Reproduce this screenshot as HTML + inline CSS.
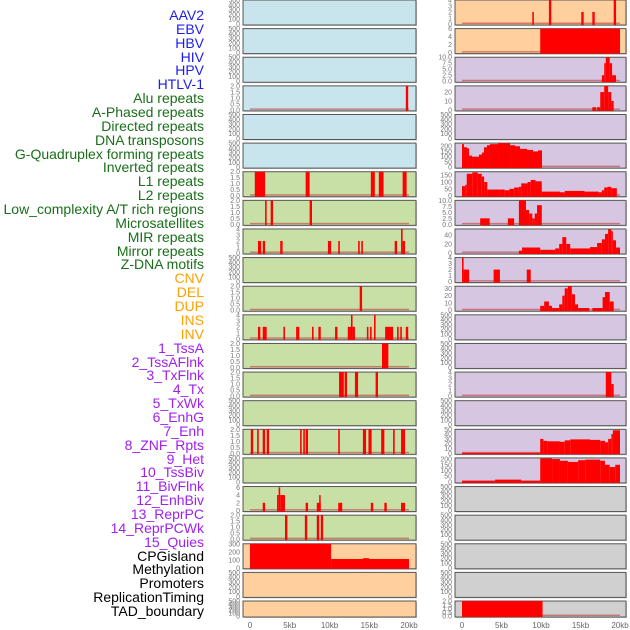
<!DOCTYPE html>
<html><head><meta charset="utf-8">
<style>
html,body{margin:0;padding:0;background:#fff;width:630px;height:630px;overflow:hidden}
#labels{position:absolute;left:0;top:0;width:204px;font-family:"Liberation Sans",sans-serif;font-size:14px;text-align:right}
#labels div{position:absolute;right:0;white-space:nowrap;line-height:14px}
svg{position:absolute;left:0;top:0}
</style></head>
<body>
<div id="labels"></div>
<svg id="chart" width="630" height="630"></svg>
<script>
const labelNames=["AAV2","EBV","HBV","HIV","HPV","HTLV-1","Alu repeats","A-Phased repeats","Directed repeats","DNA transposons","G-Quadruplex forming repeats","Inverted repeats","L1 repeats","L2 repeats","Low_complexity A/T rich regions","Microsatellites","MIR repeats","Mirror repeats","Z-DNA motifs","CNV","DEL","DUP","INS","INV","1_TssA","2_TssAFlnk","3_TxFlnk","4_Tx","5_TxWk","6_EnhG","7_Enh","8_ZNF_Rpts","9_Het","10_TssBiv","11_BivFlnk","12_EnhBiv","13_ReprPC","14_ReprPCWk","15_Quies","CPGisland","Methylation","Promoters","ReplicationTiming","TAD_boundary"];
const labelGroups=[6,13,5,15,5];
const groupColors=["#1c1cf0","#1a6e1a","#ffa000","#a020f0","#000000"];
const xTickLabels=["0","5kb","10kb","15kb","20kb"];
const xTickValues=[0,5,10,15,20];
const T500=[0,100,200,300,400,500], T2=[0,0.5,1,1.5,2], T4=[0,1,2,3,4];
const leftBg=["b","b","b","b","b","b","g","g","g","g","g","g","g","g","g","g","g","g","g","o","o","o"];
const rightBg=["o","o","p","p","p","p","p","p","p","p","p","p","p","p","p","p","p","g2","g2","g2","g2","g2"];
const leftTicks=[T500,T500,T500,T2,T500,T500,T2,T2,T4,T500,T2,T4,T2,T2,T500,T2,T500,[0,2,4,6],T2,[0,100,200,300],T500,T500];
const leftMax=[500,500,500,2,500,500,2,2,4,500,2,4,2,2,500,2,500,6.2,2,300,500,500];
const rightTicks=[T4,[0,2,4,6],[0,2.5,5,7.5,10],[0,10,20],T500,[0,50,100,150,200],[0,50,100,150],[0,2.5,5,7.5,10],[0,20,40],T4,[0,10,20,30],T500,T500,T4,T500,[0,10,20,30,40,50],[0,50,100,150,200],T500,T500,T500,T500,T2];
const rightMax=[4,6,10,27,500,230,175,10,53,4,33,500,500,4,500,50,210,500,500,500,500,2];
const leftSeg=[[],[],[],[[19.6,19.9,2]],[],[],
[[0.6,1.9,2],[7.0,7.5,2],[15.2,15.7,2],[16.2,16.8,2],[19.2,19.7,2]],
[[1.9,2.1,2],[2.6,2.9,2],[7.5,7.8,2]],
[[1.0,1.4,2],[1.6,1.9,2],[3.8,4.1,2],[9.8,10.2,2],[11.1,11.3,2],[13.6,13.8,2],[14.0,14.2,2],[18.2,18.5,2],[19.0,19.2,4],[19.2,19.5,2]],
[],
[[13.8,14.1,2]],
[[1.0,1.3,2],[1.6,2.1,2],[4.2,4.4,2],[5.8,6.2,2],[7.8,8.0,2],[8.6,8.9,2],[10.7,11.0,2],[12.3,12.7,2],[12.7,12.9,4],[12.9,13.2,2],[14.7,14.9,2],[15.1,15.3,2],[15.6,15.8,4],[17.0,18.0,2],[18.5,18.7,2],[18.9,19.1,2],[19.6,19.9,2]],
[[16.6,17.4,2]],
[[11.2,11.8,2],[11.9,12.2,2],[13.2,13.6,2],[15.8,16.1,2]],
[],
[[0.1,0.4,2],[0.9,1.1,2],[1.6,1.9,2],[2.1,2.4,2],[6.3,6.5,2],[6.7,6.9,2],[7.0,7.3,2],[11.1,11.3,2],[14.2,14.6,2],[14.9,15.3,2],[16.5,16.9,2],[18.0,18.2,2],[19.0,19.5,2]],
[],
[[1.6,1.9,2],[3.4,3.6,4],[3.6,3.8,6],[3.8,4.4,4],[7.0,7.3,2],[8.4,8.9,2],[8.7,8.8,4],[11.1,11.6,2],[15.2,15.5,2],[16.9,17.2,2],[19.0,19.5,2]],
[[4.4,4.7,2],[6.9,7.2,2],[8.4,8.7,2],[8.9,9.2,2]],
[[0,10.2,300],[10.2,20,110],[14.2,15.0,120]],
[],[]];
const rightSeg=[
[[8.9,9.1,2],[11.0,11.3,4],[15.1,15.4,2],[16.5,16.8,2],[19.2,19.5,4]],
[[9.9,20,6]],
[[17.7,18.0,2.5],[18.0,18.2,7.5],[18.2,18.7,10],[18.7,19.0,7.5],[19.0,19.5,2.5]],
[[16.5,17.0,3],[17.1,17.5,3],[17.5,18.0,20],[18.0,18.5,27],[18.5,18.9,20],[18.9,19.2,10]],
[],
[[0,0.25,220],[0.25,0.63,190],[0.63,0.89,180],[0.89,1.27,110],[1.27,2.15,100],[2.15,2.53,120],[2.53,2.78,140],[2.78,3.16,190],[3.16,3.54,210],[3.54,4.56,220],[4.56,6.08,230],[6.08,6.71,210],[6.71,7.34,200],[7.34,8.23,175],[8.23,8.99,165],[8.99,9.62,150],[9.62,10.13,160]],
[[0,0.4,70],[0.4,0.6,80],[0.6,1.3,160],[1.3,2.0,170],[2.0,2.5,160],[2.5,2.8,140],[2.8,3.2,100],[3.2,4.8,45],[4.8,5.4,45],[5.4,6.0,40],[6.0,6.6,50],[6.6,7.2,60],[7.2,7.5,65],[7.5,8.3,90],[8.3,8.7,100],[8.7,9.3,115],[9.3,10.1,105],[10.1,12.4,30],[12.4,13.0,25],[13.0,15.5,35],[15.5,17.3,30],[17.3,17.7,25],[17.7,18.0,40],[18.0,18.4,60],[18.4,18.9,65],[18.9,19.6,55]],
[[2.3,3.5,2.5],[5.8,6.6,2.5],[7.2,8.1,10],[8.1,8.5,6],[8.5,8.9,4.5],[8.9,9.2,2.5],[9.2,9.5,4.5],[9.5,10.1,8]],
[[7.2,7.6,5],[7.6,9.9,12],[9.9,11.8,7],[11.8,12.3,10],[12.3,12.7,20],[12.7,13.2,35],[13.2,13.7,20],[13.7,16.2,10],[16.2,17.1,13],[17.1,17.7,22],[17.7,18.1,30],[18.1,18.5,42],[18.5,18.9,52],[18.9,19.1,48],[19.1,19.5,28],[19.5,20,12]],
[[0,0.2,4],[0.2,0.9,2],[4.0,4.8,2],[8.2,8.7,2]],
[[9.9,10.4,6],[10.4,11.0,12],[11.0,11.4,6],[11.4,12.3,3],[12.3,12.7,8],[12.7,13.0,20],[13.0,13.4,30],[13.4,13.9,33],[13.9,14.3,22],[14.3,14.7,8],[14.7,16.1,3],[16.5,17.8,3],[17.8,18.1,18],[18.1,18.7,25],[18.7,19.2,12]],
[],[],
[[18.2,18.9,4],[18.9,19.2,2]],
[],
[[0,9.9,1],[9.9,10.3,30],[10.3,10.8,26],[10.8,12.4,25],[12.4,13.0,24],[13.0,13.7,27],[13.7,16.2,29],[16.2,17.5,28],[17.5,18.1,26],[18.1,18.5,23],[18.5,18.9,30],[18.9,19.1,40],[19.1,20,48]],
[[0,4.2,10],[4.2,7.5,20],[7.5,9.9,10],[9.9,11.4,205],[11.4,12.4,200],[12.4,13.4,185],[13.4,14.7,175],[14.7,15.6,190],[15.6,17.5,195],[17.5,18.1,185],[18.1,18.7,150],[18.7,19.4,130],[19.4,20,150]],
[],[],[],[],
[[0,10.2,2]]];

const NS="http://www.w3.org/2000/svg";
const svg=document.getElementById('chart');
const bgColors={b:"#c8e4ec",g:"#c8e0a6",o:"#ffd09e",p:"#d6c6e2",g2:"#d0d0d0"};
function mk(tag,attrs){const e=document.createElementNS(NS,tag);for(const k in attrs)e.setAttribute(k,attrs[k]);svg.appendChild(e);return e;}

// labels
const lab=document.getElementById('labels');
let gi=0,cnt=0;
labelNames.forEach((n,i)=>{
  while(cnt>=labelGroups[gi]){gi++;cnt=0;}
  cnt++;
  const d=document.createElement('div');
  d.textContent=n;
  d.style.top=(8+i*13.86)+'px';
  d.style.color=groupColors[gi];
  
  
  lab.appendChild(d);
});

const cols=[{x0:243,w:173,z:250,k:7.95,bg:leftBg,ticks:leftTicks,max:leftMax,seg:leftSeg,name:'left'},
            {x0:455,w:171,z:462,k:7.9,bg:rightBg,ticks:rightTicks,max:rightMax,seg:rightSeg,name:'right'}];
function fmt(v,ticks){const dec=ticks.some(t=>t%1!==0);return dec?v.toFixed(1):String(v);}
cols.forEach(c=>{
  const xs=kb=>c.z+kb*c.k;
  for(let i=0;i<22;i++){
    const top=i*28.62, h=(i===21?16:25), bottom=top+h;
    const ys=v=>bottom-1-(v/c.max[i])*(h-1);
    const r=mk('rect',{x:c.x0+1,y:top+1,width:c.w,height:h,fill:'#999',opacity:0.5});
    
    
    const p=mk('rect',{x:c.x0,y:top,width:c.w,height:h,fill:bgColors[c.bg[i]],stroke:'#555','stroke-width':1});
    
    
    c.ticks[i].forEach(t=>{
      const tx=mk('text',{x:c.x0-3,y:ys(t)+2.5,'text-anchor':'end','font-size':7,fill:'#777','font-family':'Liberation Sans, sans-serif'});
      tx.textContent=fmt(t,c.ticks[i]);
      
      
    });
    if(c.seg[i].length){
      const bl=mk('rect',{x:xs(0),y:bottom-2.5,width:xs(20)-xs(0),height:1.5,fill:'#c04040',opacity:0.6});
      
      
    }
    c.seg[i].forEach(s=>{
      const y=ys(s[2]);
      const b=mk('rect',{x:xs(s[0]),y:Math.max(top,y),width:Math.max(1.5,xs(s[1])-xs(s[0])),height:bottom-Math.max(top,y),fill:'#ff0000'});
      
      
    });
  }
  xTickValues.forEach((v,j)=>{
    const tx=mk('text',{x:xs(v),y:628,'text-anchor':'middle','font-size':8,fill:'#666','font-family':'Liberation Sans, sans-serif'});
    tx.textContent=xTickLabels[j];
    
    
  });
});
</script>
</body></html>
